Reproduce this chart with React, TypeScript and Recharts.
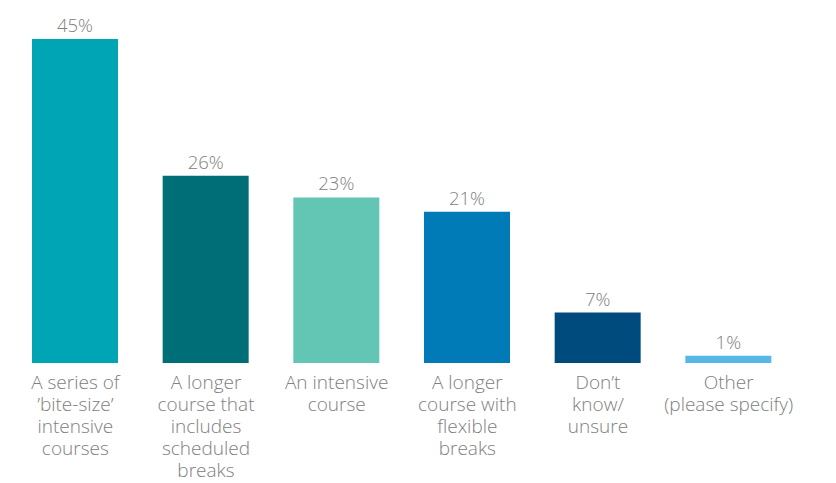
import { BarChart, Bar, XAxis, YAxis, Cell, LabelList } from 'recharts';

const categories = [
    "A series of|’bite-size’|intensive|courses",
    "A longer|course that|includes|scheduled|breaks",
    "An intensive|course",
    "A longer|course with|flexible|breaks",
    "Don’t|know/|unsure",
    "Other|(please specify)",
];
const values = [45, 26, 23, 21, 7, 1];
const colors = ['#00a5b5', '#006e76', '#63c6b5', '#007bb8', '#004b7d', '#54b9e6'];

const data = categories.map((name, i) => ({ name, value: values[i] }));

const FONT = '"Open Sans", sans-serif';

function CategoryTick(props: any) {
    const { x, y, payload } = props;
    const lines: string[] = String(payload.value).split('|');
    return (
        <text x={x} y={y + 18} textAnchor="middle" fill="#808080" fontSize={19} fontWeight={300} fontFamily={FONT}>
            {lines.map((line, i) => (
                <tspan key={i} x={x} dy={i === 0 ? 0 : 22}>{line}</tspan>
            ))}
        </text>
    );
}

function ValueLabel(props: any) {
    const { x, y, width, value } = props;
    return (
        <text x={x + width / 2} y={y - 7} textAnchor="middle" fill="#808080" fontSize={18.5} fontWeight={300} fontFamily={FONT}>
            {value}%
        </text>
    );
}

export default function App() {
    return (
        <div style={{ position: 'absolute', left: 0, top: 0, background: '#fff' }}>
            <BarChart
                width={836}
                height={483}
                data={data}
                margin={{ top: 39, right: 42, left: 10, bottom: 0 }}
                barSize={86}
            >
                <XAxis
                    dataKey="name"
                    axisLine={false}
                    tickLine={false}
                    interval={0}
                    height={120}
                    tick={<CategoryTick />}
                />
                <YAxis hide domain={[0, 45]} />
                <Bar dataKey="value" isAnimationActive={false}>
                    {data.map((_, i) => (
                        <Cell key={i} fill={colors[i]} />
                    ))}
                    <LabelList dataKey="value" content={<ValueLabel />} />
                </Bar>
            </BarChart>
        </div>
    );
}
